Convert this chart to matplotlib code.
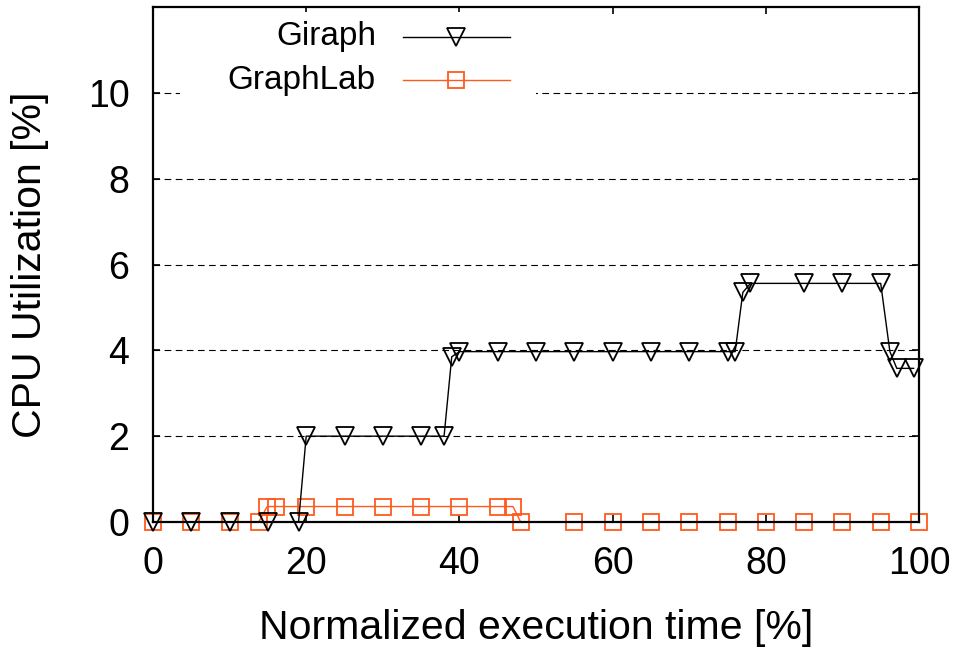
import matplotlib
matplotlib.use('Agg')
import matplotlib.pyplot as plt
from matplotlib.patches import Rectangle

# data
giraph_x = [0, 5, 10, 15, 19, 20, 25, 30, 35, 38, 39, 40, 45, 50, 55, 60, 65, 70, 75,
            76, 77, 78, 85, 90, 95, 96.2, 97.1, 99.3]
giraph_y = [0, 0, 0, 0, 0, 2, 2, 2, 2, 2, 3.85, 3.97, 3.97, 3.97, 3.97, 3.97, 3.97, 3.97, 3.97,
            3.97, 5.35, 5.56, 5.56, 5.56, 5.56, 3.97, 3.58, 3.58]

graphlab_x = [0, 5, 10, 13.8, 14.9, 16, 20, 25, 30, 35, 40, 45, 47, 48,
              55, 60, 65, 70, 75, 80, 85, 90, 95, 100]
graphlab_y = [0, 0, 0, 0, 0.36, 0.36, 0.36, 0.36, 0.36, 0.36, 0.36, 0.36, 0.36, 0,
              0, 0, 0, 0, 0, 0, 0, 0, 0, 0]

series_names = ['Giraph', 'GraphLab']
x_ticks = [0, 20, 40, 60, 80, 100]
y_ticks = [0, 2, 4, 6, 8, 10]

plt.rcParams['font.family'] = ['Liberation Sans', 'DejaVu Sans']
ORANGE = '#ff5a1e'

fig = plt.figure(figsize=(9.57, 6.5), dpi=100)
ax = fig.add_axes([153 / 957, 128 / 650, 766 / 957, 515 / 650])

ax.set_xlim(0, 100)
ax.set_ylim(0, 12)
ax.set_xticks(x_ticks)
ax.set_yticks(y_ticks)
ax.tick_params(direction='in', length=5, width=1.2, top=True, right=True,
               labelsize=27, pad=17)
for s in ax.spines.values():
    s.set_linewidth(1.6)
ax.set_axisbelow(True)
ax.yaxis.grid(True, linestyle=(0, (6, 4)), color='black', linewidth=0.8)

ax.plot(giraph_x, giraph_y, color='black', lw=1.0, marker='v', ms=13,
        mfc='none', mec='black', mew=1.3, clip_on=False, zorder=3)
ax.plot(graphlab_x, graphlab_y, color=ORANGE, lw=1.0, marker='s', ms=12,
        mfc='none', mec=ORANGE, mew=1.3, clip_on=False, zorder=2.4)

# legend box (opaque, hides grid) drawn by hand to get right-aligned labels
ax.add_patch(Rectangle((0.035, 0.80), 0.465, 0.19, transform=ax.transAxes,
                       facecolor='white', edgecolor='none', zorder=1))
leg_y = [0.942, 0.858]
styles = [('black', 'v', 13), (ORANGE, 's', 12)]
for name, ly, (c, m, ms) in zip(series_names, leg_y, styles):
    ax.text(0.291, ly, name, transform=ax.transAxes, ha='right', va='center',
            fontsize=24, zorder=5)
    ax.plot([0.326, 0.466], [ly, ly], transform=ax.transAxes, color=c, lw=1.0,
            zorder=5)
    ax.plot([0.396], [ly], transform=ax.transAxes, color=c, marker=m, ms=ms,
            mfc='none', mec=c, mew=1.3, zorder=5)

ax.set_xlabel('Normalized execution time [%]', fontsize=29.5, labelpad=20)
ax.set_ylabel('CPU Utilization [%]', fontsize=29.5, labelpad=28)

fig.savefig('out.png', dpi=100)
